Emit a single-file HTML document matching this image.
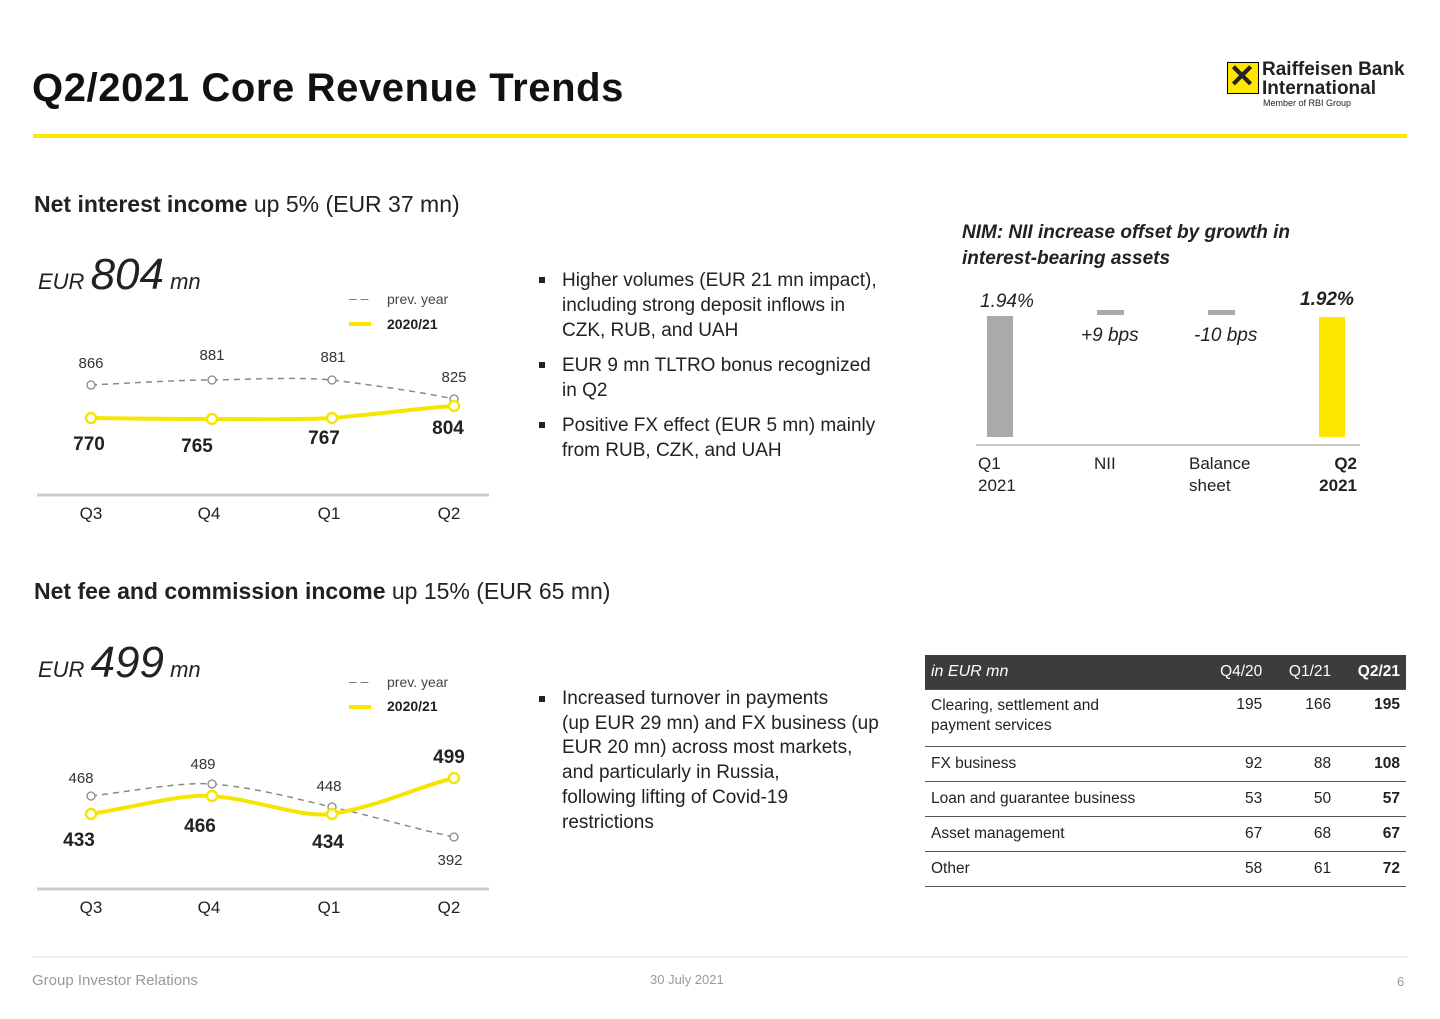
<!DOCTYPE html><html><head><meta charset="utf-8"><style>
body{margin:0;width:1440px;height:1019px;background:#fff;font-family:"Liberation Sans",sans-serif;color:#222;position:relative;overflow:hidden}
.a{position:absolute;white-space:nowrap}
.b{font-weight:bold}
ul{margin:0;padding:0;list-style:none}
li{position:relative;padding-left:26px;font-size:19px;line-height:25px;margin-bottom:10px;color:#222}
li:before{content:"";position:absolute;left:3px;top:9px;width:6px;height:6px;background:#222}
table{border-collapse:collapse;font-size:15.5px;color:#222}
td{border-bottom:1px solid #555;padding:0 6px;height:34px}
.r{text-align:right}
</style></head><body>
<div class="a b" style="left:32px;top:66px;font-size:40px;color:#111;letter-spacing:0.6px">Q2/2021 Core Revenue Trends</div>
<div class="a" style="left:1227px;top:62px;width:30px;height:30px;background:#ffe600;border:1px solid #000"></div>
<div class="a b" style="left:1226px;top:57px;font-size:32px;width:32px;text-align:center">✕</div>
<div class="a b" style="left:1262px;top:60px;font-size:19px;line-height:19px">Raiffeisen Bank<br>International</div>
<div class="a" style="left:1263px;top:98px;font-size:9px">Member of RBI Group</div>
<div class="a" style="left:33px;top:134px;width:1374px;height:4px;background:#ffe600"></div>

<div class="a" style="left:34px;top:191px;font-size:23px"><b>Net interest income</b> up 5% (EUR 37 mn)</div>
<div class="a" style="left:38px;top:250px;font-size:22px;font-style:italic">EUR <span style="font-size:44px">804</span> mn</div>
<div class="a" style="left:349px;top:290px;font-size:14px;color:#777">– –</div>
<div class="a" style="left:387px;top:291px;font-size:14px;color:#444">prev. year</div>
<div class="a" style="left:349px;top:322px;width:22px;height:4px;background:#ffe600"></div>
<div class="a b" style="left:387px;top:316px;font-size:14px">2020/21</div>

<div class="a" style="left:34px;top:578px;font-size:23px"><b>Net fee and commission income</b> up 15% (EUR 65 mn)</div>
<div class="a" style="left:38px;top:638px;font-size:22px;font-style:italic">EUR <span style="font-size:44px">499</span> mn</div>
<div class="a" style="left:349px;top:673px;font-size:14px;color:#777">– –</div>
<div class="a" style="left:387px;top:674px;font-size:14px;color:#444">prev. year</div>
<div class="a" style="left:349px;top:705px;width:22px;height:4px;background:#ffe600"></div>
<div class="a b" style="left:387px;top:698px;font-size:14px">2020/21</div>

<svg class="a" style="left:0;top:0" width="1440" height="1019" font-family="Liberation Sans,sans-serif">
<line x1="37" y1="495" x2="489" y2="495" stroke="#ccc" stroke-width="3"/>
<line x1="37" y1="889" x2="489" y2="889" stroke="#ccc" stroke-width="3"/>
<g font-size="17" fill="#222" text-anchor="middle">
<text x="91" y="519">Q3</text><text x="209" y="519">Q4</text><text x="329" y="519">Q1</text><text x="449" y="519">Q2</text>
<text x="91" y="913">Q3</text><text x="209" y="913">Q4</text><text x="329" y="913">Q1</text><text x="449" y="913">Q2</text>
</g>
<path d="M91,385 C150,382 180,380 212,380 C260,379 300,377 332,380 C380,386 420,392 454,399" fill="none" stroke="#888" stroke-width="1.5" stroke-dasharray="6,5"/>
<path d="M91,418 C150,419 180,419 212,419 C260,419 300,420 332,418 C380,414 420,408 454,406" fill="none" stroke="#f5e600" stroke-width="4"/>
<g fill="#fff" stroke="#888" stroke-width="1.3"><circle cx="91" cy="385" r="4"/><circle cx="212" cy="380" r="4"/><circle cx="332" cy="380" r="4"/><circle cx="454" cy="399" r="4"/></g>
<g fill="#fff" stroke="#f5e600" stroke-width="2.5"><circle cx="91" cy="418" r="5"/><circle cx="212" cy="419" r="5"/><circle cx="332" cy="418" r="5"/><circle cx="454" cy="406" r="5"/></g>
<g font-size="15" fill="#333" text-anchor="middle"><text x="91" y="368">866</text><text x="212" y="360">881</text><text x="333" y="362">881</text><text x="454" y="382">825</text></g>
<g font-size="19" font-weight="bold" fill="#222" text-anchor="middle"><text x="89" y="450">770</text><text x="197" y="452">765</text><text x="324" y="444">767</text><text x="448" y="434">804</text></g>

<path d="M91,796 C140,790 180,782 212,784 C260,788 300,800 332,807 C380,818 420,830 454,837" fill="none" stroke="#888" stroke-width="1.5" stroke-dasharray="6,5"/>
<path d="M91,814 C140,806 180,794 212,796 C260,800 300,818 332,814 C380,806 420,786 454,778" fill="none" stroke="#f5e600" stroke-width="4"/>
<g fill="#fff" stroke="#888" stroke-width="1.3"><circle cx="91" cy="796" r="4"/><circle cx="212" cy="784" r="4"/><circle cx="332" cy="807" r="4"/><circle cx="454" cy="837" r="4"/></g>
<g fill="#fff" stroke="#f5e600" stroke-width="2.5"><circle cx="91" cy="814" r="5"/><circle cx="212" cy="796" r="5"/><circle cx="332" cy="814" r="5"/><circle cx="454" cy="778" r="5"/></g>
<g font-size="15" fill="#333" text-anchor="middle"><text x="81" y="783">468</text><text x="203" y="769">489</text><text x="329" y="791">448</text><text x="450" y="865">392</text></g>
<g font-size="19" font-weight="bold" fill="#222" text-anchor="middle"><text x="79" y="846">433</text><text x="200" y="832">466</text><text x="328" y="848">434</text><text x="449" y="763">499</text></g>

<rect x="987" y="316" width="26" height="121" fill="#aaa"/>
<rect x="1097" y="310" width="27" height="5" fill="#aaa"/>
<rect x="1208" y="310" width="27" height="5" fill="#aaa"/>
<rect x="1319" y="317" width="26" height="120" fill="#ffe600"/>
<line x1="976" y1="445" x2="1360" y2="445" stroke="#ccc" stroke-width="2"/>
<g font-size="19" font-style="italic" fill="#222"><text x="980" y="307">1.94%</text><text x="1081" y="341">+9 bps</text><text x="1194" y="341">-10 bps</text><text x="1300" y="305" font-weight="bold">1.92%</text></g>
<g font-size="17" fill="#222"><text x="978" y="469">Q1</text><text x="978" y="491">2021</text><text x="1094" y="469">NII</text><text x="1189" y="469">Balance</text><text x="1189" y="491">sheet</text>
<text x="1357" y="469" text-anchor="end" font-weight="bold">Q2</text><text x="1357" y="491" text-anchor="end" font-weight="bold">2021</text></g>
<line x1="33" y1="957" x2="1407" y2="957" stroke="#ddd" stroke-width="1"/>
</svg>

<div class="a" style="left:962px;top:220px;font-size:19px;font-style:italic;font-weight:bold;line-height:26px">NIM: NII increase offset by growth in<br>interest-bearing assets</div>

<div class="a" style="left:536px;top:268px;width:350px"><ul>
<li style="white-space:normal">Higher volumes (EUR 21 mn impact), including strong deposit inflows in CZK, RUB, and UAH</li>
<li style="white-space:normal">EUR 9 mn TLTRO bonus recognized in Q2</li>
<li style="white-space:normal">Positive FX effect (EUR 5 mn) mainly from RUB, CZK, and UAH</li></ul></div>
<div class="a" style="left:536px;top:687px"><ul>
<li style="line-height:24.7px">Increased turnover in payments<br>(up EUR 29 mn) and FX business (up<br>EUR 20 mn) across most markets,<br>and particularly in Russia,<br>following lifting of Covid-19<br>restrictions</li></ul></div>

<table class="a" style="left:925px;top:655px;width:481px">
<tr style="background:#3c3c3c;color:#fff"><td style="height:33px;font-style:italic;font-size:16px">in EUR mn</td><td class="r">Q4/20</td><td class="r">Q1/21</td><td class="r b">Q2/21</td></tr>
<tr><td style="height:50px;vertical-align:top;padding-top:6px;line-height:20px">Clearing, settlement and<br>payment services</td><td class="r" style="vertical-align:top;padding-top:6px">195</td><td class="r" style="vertical-align:top;padding-top:6px">166</td><td class="r b" style="vertical-align:top;padding-top:6px">195</td></tr>
<tr><td>FX business</td><td class="r">92</td><td class="r">88</td><td class="r b">108</td></tr>
<tr><td>Loan and guarantee business</td><td class="r">53</td><td class="r">50</td><td class="r b">57</td></tr>
<tr><td>Asset management</td><td class="r">67</td><td class="r">68</td><td class="r b">67</td></tr>
<tr><td>Other</td><td class="r">58</td><td class="r">61</td><td class="r b">72</td></tr>
</table>

<div class="a" style="left:32px;top:972px;font-size:15px;color:#999">Group Investor Relations</div>
<div class="a" style="left:650px;top:972px;font-size:13px;color:#999">30 July 2021</div>
<div class="a" style="left:1397px;top:974px;font-size:13px;color:#999">6</div>
</body></html>
